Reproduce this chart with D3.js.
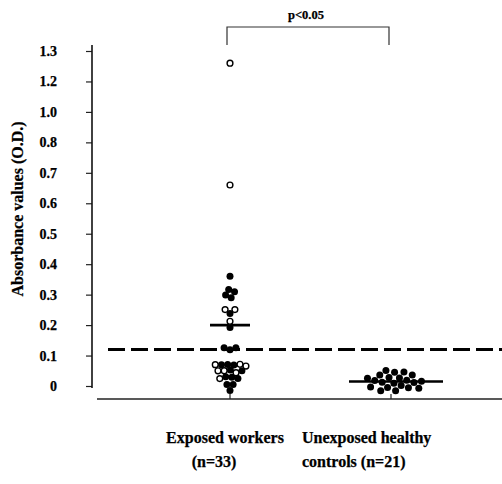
<!DOCTYPE html>
<html>
<head>
<meta charset="utf-8">
<script src="https://cdn.jsdelivr.net/npm/d3@7.9.0/dist/d3.min.js"></script>
<style>
  body { margin: 0; background: #fff; }
  svg { display: block; }
  text { font-family: "Liberation Serif", "Times New Roman", serif; font-weight: bold; fill: #000; stroke: #000; stroke-width: 0.25; }
</style>
</head>
<body>
<div id="plot-container"></div>
<script>
// groups and their labels
const groups = ["exposed", "unexposed"];
const groupLabels = [["Exposed workers", "(n=33)"], ["Unexposed healthy", "controls (n=21)"]];

// y axis tick labels (evenly spaced on the original figure)
const yTicks = [0, 0.1, 0.2, 0.3, 0.4, 0.5, 0.6, 0.7, 0.8, 1.0, 1.2, 1.3];

// exposed workers: filled dots and open circles
const exposedFilled = [0.36, 0.315, 0.31, 0.30, 0.29, 0.24, 0.195,
  0.125, 0.125, 0.12,
  0.07, 0.07, 0.07, 0.05, 0.05, 0.03, 0.03, 0.025, 0.005, 0.005, -0.015];
const exposedOpen = [1.26, 0.66, 0.25, 0.25, 0.21, 0.07, 0.07, 0.065, 0.05, 0.05, 0.045, 0.025];

// unexposed controls: all filled
const unexposedFilled = [0.045, 0.045, 0.045, 0.035, 0.03, 0.03, 0.025, 0.02, 0.02, 0.015, 0.015,
  0.01, 0.01, 0.01, 0.005, 0.005, 0.0, 0.0, -0.005, -0.015, -0.015];

// medians and cutoff
const medians = [0.2, 0.015];
const cutoff = 0.12;

function renderPlot() {
    const width = 502;
    const height = 484;

    const svg = d3.select('#plot-container')
        .append('svg')
        .attr('width', width)
        .attr('height', height);

    // y scale: each tick label gets an equal step
    const yBottom = 386, yTop = 51;
    const step = (yBottom - yTop) / (yTicks.length - 1);
    const yScale = d3.scaleLinear()
        .domain(yTicks)
        .range(yTicks.map((d, i) => yBottom - i * step));

    const xScale = d3.scalePoint()
        .domain(groups)
        .range([230, 391]);

    const axisX = 92;

    // y axis
    const yAxis = d3.axisLeft(yScale)
        .tickValues(yTicks)
        .tickSize(6)
        .tickSizeOuter(0)
        .tickPadding(29)
        .tickFormat(d => d === 0 ? '0' : d3.format('.1f')(d));

    const yG = svg.append('g')
        .attr('transform', `translate(${axisX}, 0)`)
        .call(yAxis);
    yG.select('.domain').remove();
    yG.selectAll('.tick line').attr('stroke', '#222').attr('stroke-width', 1.2);
    yG.selectAll('.tick text')
        .attr('font-size', 14)
        .attr('font-family', null)
        .attr('fill', '#000');

    svg.append('line')
        .attr('x1', axisX).attr('x2', axisX)
        .attr('y1', yTop - 6).attr('y2', yBottom + 2)
        .attr('stroke', '#111').attr('stroke-width', 1.6);

    // x axis line with group ticks
    const xAxisY = 399;
    svg.append('line')
        .attr('x1', axisX + 5).attr('x2', width)
        .attr('y1', xAxisY).attr('y2', xAxisY)
        .attr('stroke', '#222').attr('stroke-width', 1.4);

    svg.selectAll('.xtick')
        .data(groups)
        .enter()
        .append('line')
        .attr('class', 'xtick')
        .attr('x1', d => xScale(d)).attr('x2', d => xScale(d))
        .attr('y1', xAxisY).attr('y2', xAxisY - 5)
        .attr('stroke', '#222').attr('stroke-width', 1.2);

    // y axis title
    svg.append('text')
        .attr('transform', `translate(23, 209) rotate(-90)`)
        .attr('text-anchor', 'middle')
        .attr('font-size', 16)
        .text('Absorbance values (O.D.)');

    // group labels, two lines each
    const labelPos = [
        [{ x: 225, anchor: 'middle' }, { x: 214, anchor: 'middle' }],
        [{ x: 302, anchor: 'start' }, { x: 302, anchor: 'start' }]
    ];
    groupLabels.forEach((lines, gi) => {
        lines.forEach((t, li) => {
            svg.append('text')
                .attr('x', labelPos[gi][li].x)
                .attr('y', li === 0 ? 443 : 467)
                .attr('text-anchor', labelPos[gi][li].anchor)
                .attr('font-size', 16)
                .text(t);
        });
    });

    // significance bracket
    const bx0 = xScale('exposed') - 3, bx1 = xScale('unexposed') - 2;
    svg.append('path')
        .attr('d', `M${bx0},45 V27 H${bx1} V45`)
        .attr('fill', 'none')
        .attr('stroke', '#333')
        .attr('stroke-width', 1.2);
    svg.append('text')
        .attr('x', (bx0 + bx1) / 2 - 2)
        .attr('y', 19)
        .attr('text-anchor', 'middle')
        .attr('font-size', 12.5)
        .text('p<0.05');

    // cutoff dashed line
    svg.append('line')
        .attr('x1', 108).attr('x2', width)
        .attr('y1', yScale(cutoff)).attr('y2', yScale(cutoff))
        .attr('stroke', '#000')
        .attr('stroke-width', 3)
        .attr('stroke-dasharray', '17,6');

    // points laid out as a beeswarm
    const r = 3.5;
    const nodes = [
        ...exposedFilled.map(v => ({ group: 'exposed', value: v, open: false })),
        ...exposedOpen.map(v => ({ group: 'exposed', value: v, open: true })),
        ...unexposedFilled.map(v => ({ group: 'unexposed', value: v, open: false }))
    ];
    nodes.forEach(d => { d.x = xScale(d.group); d.y = yScale(d.value); });

    const sim = d3.forceSimulation(nodes)
        .force('x', d3.forceX(d => xScale(d.group) + (d.group === 'unexposed' ? 5 : 0))
            .strength(d => d.group === 'unexposed' ? 0.02 : 0.06))
        .force('y', d3.forceY(d => yScale(d.value)).strength(0.9))
        .force('collide', d3.forceCollide(d => d.group === 'unexposed' ? r + 0.3 : r - 0.4))
        .stop();
    for (let i = 0; i < 300; i++) sim.tick();

    // medians
    const medianHalf = [20, 47];
    svg.selectAll('.median')
        .data(groups)
        .enter()
        .append('line')
        .attr('class', 'median')
        .attr('x1', (d, i) => xScale(d) + (i ? 5 : 0) - medianHalf[i])
        .attr('x2', (d, i) => xScale(d) + (i ? 5 : 0) + medianHalf[i])
        .attr('y1', (d, i) => yScale(medians[i]))
        .attr('y2', (d, i) => yScale(medians[i]))
        .attr('stroke', '#000')
        .attr('stroke-width', 2.6);

    // filled first, open circles on top
    nodes.sort((a, b) => a.open - b.open);
    svg.append('g')
        .selectAll('circle')
        .data(nodes)
        .enter()
        .append('circle')
        .attr('cx', d => d.x)
        .attr('cy', d => d.y)
        .attr('r', d => d.open ? r - 0.6 : r)
        .attr('fill', d => d.open ? '#fff' : '#000')
        .attr('stroke', '#000')
        .attr('stroke-width', d => d.open ? 1.4 : 0);
}

renderPlot();
</script>
</body>
</html>
